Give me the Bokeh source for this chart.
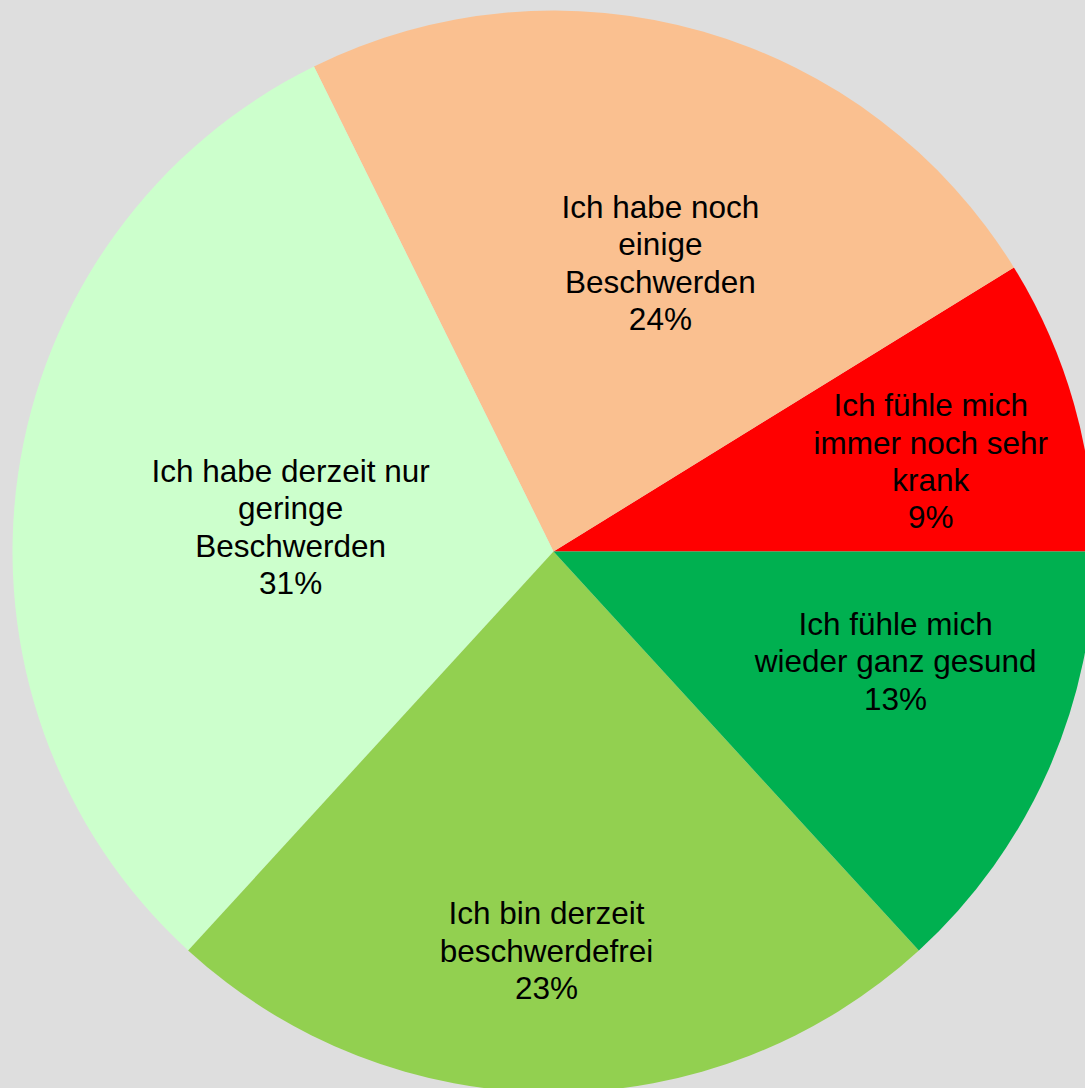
import math
from bokeh.plotting import figure
from bokeh.models import ColumnDataSource, Range1d, GlobalInlineStyleSheet
from bokeh.core.properties import value
from bokeh.embed import file_html
from bokeh.resources import INLINE

# ---- data ----
categories = [
    "Ich fühle mich\nimmer noch sehr\nkrank",
    "Ich habe noch\neinige\nBeschwerden",
    "Ich habe derzeit nur\ngeringe\nBeschwerden",
    "Ich bin derzeit\nbeschwerdefrei",
    "Ich fühle mich\nwieder ganz gesund",
]
shares = [8.8, 23.5, 30.9, 23.6, 13.2]
pct_labels = ["9%", "24%", "31%", "23%", "13%"]
colors = ["#FF0000", "#FAC090", "#CCFFCC", "#92D050", "#00B050"]

# ---- layout ----
W, H = 1085, 1088
BG = "#DEDEDE"
cx, cy = 553, H - 551
R = 541
label_rfrac = [0.717, 0.569, 0.488, 0.738, 0.664]
label_angle_shift = [-2.4, -4.3, 2.8, -1.0, 6.0]

total = sum(shares)
starts, ends, lx, ly, texts = [], [], [], [], []
acc = 0.0
for i, s in enumerate(shares):
    a0 = 2 * math.pi * acc / total
    acc += s
    a1 = 2 * math.pi * acc / total
    starts.append(a0)
    ends.append(a1)
    mid = (a0 + a1) / 2 + math.radians(label_angle_shift[i])
    lx.append(cx + label_rfrac[i] * R * math.cos(mid))
    ly.append(cy + label_rfrac[i] * R * math.sin(mid))
    texts.append(categories[i] + "\n" + pct_labels[i])

src = ColumnDataSource(dict(start=starts, end=ends, color=colors,
                            x=[cx] * len(shares), y=[cy] * len(shares)))
lsrc = ColumnDataSource(dict(x=lx, y=ly, text=texts))

p = figure(width=W, height=H, output_backend="svg", toolbar_location=None,
           x_range=Range1d(0, W), y_range=Range1d(0, H),
           x_axis_location=None, y_axis_location=None,
           min_border=0, tools="")
p.grid.visible = False
p.outline_line_color = None
p.background_fill_color = BG
p.border_fill_color = BG

p.wedge(x="x", y="y", radius=R, start_angle="start", end_angle="end",
        fill_color="color", line_color=None, source=src)

p.text(x="x", y="y", text="text", source=lsrc,
       text_font=value("Liberation Sans"), text_font_size="31.5px",
       text_color="black", text_align="center", text_baseline="middle",
       text_line_height=1.04)

p.stylesheets = [GlobalInlineStyleSheet(css=f"body {{ background: {BG}; }}")]

open("out.html", "w").write(file_html(p, INLINE))
